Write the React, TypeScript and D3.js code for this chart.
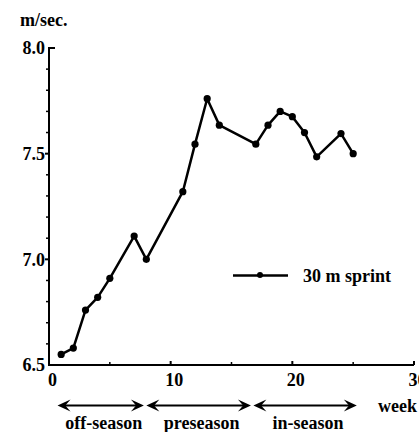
import React from "react";
import * as d3 from "d3";

const weeks = [1, 2, 3, 4, 5, 7, 8, 11, 12, 13, 14, 17, 18, 19, 20, 21, 22, 24, 25];
const sprint = [6.55, 6.58, 6.76, 6.82, 6.91, 7.11, 7.0, 7.32, 7.545, 7.76, 7.635, 7.545, 7.635, 7.7, 7.675, 7.6, 7.485, 7.595, 7.5];
const yTickLabels = ["6.5", "7.0", "7.5", "8.0"];
const xTickLabels = ["0", "10", "20", "30"];
const phases = ["off-season", "preseason", "in-season"];
const phaseBounds = [[0.7, 7.8], [8.0, 16.6], [16.8, 25.3]];

const W = 419;
const H = 432;
const FONT = "Liberation Serif, Times New Roman, serif";

export default function App() {
  const x = d3.scaleLinear().domain([0, 30]).range([49, 414]);
  const y = d3.scaleLinear().domain([6.5, 8.0]).range([365, 48]);

  const line = d3
    .line<number>()
    .x((_, i) => x(weeks[i]))
    .y((d) => y(d));

  const minorY = d3.range(6.6, 8.0, 0.1).filter((v) => Math.abs((v * 10) % 5) > 0.01);
  const minorX = [5, 15, 25];
  const arrowY = 405.5;

  const head = (tx: number, dir: number) => {
    // barbed arrowhead, dir = 1 points right, -1 points left
    const l = 13 * dir;
    return `M${tx},${arrowY} L${tx - l},${arrowY - 6} L${tx - l * 0.6},${arrowY} L${tx - l},${arrowY + 6} Z`;
  };

  const txt = { fontFamily: FONT, fontWeight: 700, fontSize: 18 };

  return (
    <svg
      width={W}
      height={H}
      style={{ position: "absolute", left: 0, top: 0, background: "#fff" }}
    >
      <text x={20} y={26} style={txt}>m/sec.</text>

      {/* y axis */}
      <line x1={x(0)} x2={x(0)} y1={y(8.0)} y2={y(6.5)} stroke="#000" strokeWidth={2} />
      <line x1={x(0) - 1} x2={x(0) + 6} y1={y(8.0)} y2={y(8.0)} stroke="#000" strokeWidth={2} />
      {[7.0, 7.5].map((v) => (
        <line key={v} x1={x(0) - 4} x2={x(0)} y1={y(v)} y2={y(v)} stroke="#000" strokeWidth={2} />
      ))}
      {minorY.map((v) => (
        <line key={v} x1={x(0) - 3} x2={x(0)} y1={y(v)} y2={y(v)} stroke="#000" strokeWidth={1.5} />
      ))}
      {yTickLabels.map((t) => (
        <text key={t} x={45} y={y(+t)} dy="0.35em" textAnchor="end" style={txt}>
          {t}
        </text>
      ))}

      {/* x axis */}
      <line x1={x(0) - 1} x2={x(30)} y1={y(6.5)} y2={y(6.5)} stroke="#000" strokeWidth={2} />
      {[10, 20, 30].map((v) => (
        <line key={v} x1={x(v)} x2={x(v)} y1={y(6.5)} y2={y(6.5) - 4} stroke="#000" strokeWidth={2} />
      ))}
      {minorX.map((v) => (
        <line key={v} x1={x(v)} x2={x(v)} y1={y(6.5)} y2={y(6.5) - 3} stroke="#000" strokeWidth={1.5} />
      ))}
      {xTickLabels.map((t) => (
        <text key={t} x={x(+t) + 3.5} y={380} dy="0.35em" textAnchor="middle" style={txt}>
          {t}
        </text>
      ))}
      <text x={417} y={arrowY} dy="0.35em" textAnchor="end" style={txt}>week</text>

      {/* data */}
      <path d={line(sprint) ?? ""} fill="none" stroke="#000" strokeWidth={2.5} strokeLinejoin="round" />
      {sprint.map((v, i) => (
        <circle key={i} cx={x(weeks[i])} cy={y(v)} r={3.6} fill="#000" />
      ))}

      {/* legend */}
      <line x1={233} x2={288} y1={275.5} y2={275.5} stroke="#000" strokeWidth={2.5} />
      <circle cx={260} cy={275} r={3} fill="#000" />
      <text x={303} y={275.5} dy="0.35em" style={txt}>30 m sprint</text>

      {/* season arrows */}
      {phases.map((p, i) => {
        const [a, b] = phaseBounds[i];
        const xa = x(a);
        const xb = x(b);
        return (
          <g key={p}>
            <line x1={xa + 6} x2={xb - 6} y1={arrowY} y2={arrowY} stroke="#000" strokeWidth={2} />
            <path d={head(xa, -1)} fill="#000" />
            <path d={head(xb, 1)} fill="#000" />
            <text x={(xa + xb) / 2 + 3} y={423} dy="0.35em" textAnchor="middle" style={txt}>
              {p}
            </text>
          </g>
        );
      })}
    </svg>
  );
}
